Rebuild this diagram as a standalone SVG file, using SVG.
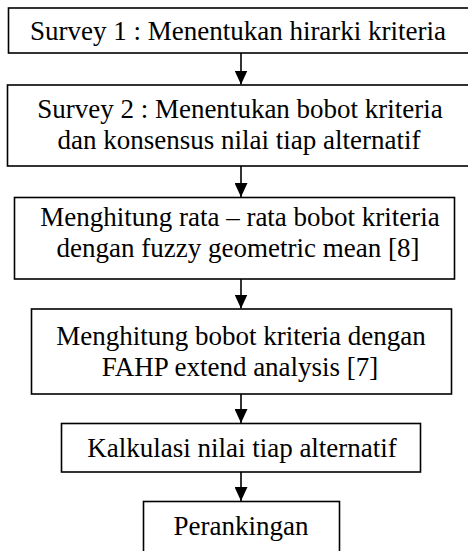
<svg xmlns="http://www.w3.org/2000/svg" width="468" height="551" viewBox="0 0 468 551">
<defs>
<marker id="ah" viewBox="0 0 14 13" refX="14" refY="6.5" markerWidth="14" markerHeight="13" markerUnits="userSpaceOnUse" orient="auto">
<path d="M0,0 L14,6.5 L0,13 Z" fill="#000"/>
</marker>
</defs>
<style>
rect{fill:#fff;stroke:#000;stroke-width:1.6}
text{font-family:'Liberation Serif','DejaVu Serif',serif;font-size:27px;fill:#000;text-anchor:middle}
.c{stroke:#000;stroke-width:1.6;fill:none;marker-end:url(#ah)}
</style>
<rect width="468" height="551" fill="#fff" style="stroke:none"/>
<g id="connectors">
<line class="c" x1="241" y1="53" x2="241" y2="84.5"/>
<line class="c" x1="241" y1="166" x2="241" y2="197"/>
<line class="c" x1="241" y1="279" x2="241" y2="308.5"/>
<line class="c" x1="241" y1="394" x2="241" y2="423"/>
<line class="c" x1="241" y1="472" x2="241" y2="501"/>
</g>
<g id="n1"><rect x="8.5" y="8" width="470" height="45"/><text x="238" y="40">Survey 1 : Menentukan hirarki kriteria</text></g>
<g id="n2"><rect x="7.5" y="85" width="470" height="81"/><text x="240" y="118">Survey 2 : Menentukan bobot kriteria</text><text x="239" y="149">dan konsensus nilai tiap alternatif</text></g>
<g id="n3"><rect x="14.5" y="197.5" width="440" height="81.5"/><text x="240" y="226">Menghitung rata – rata bobot kriteria</text><text x="238" y="257">dengan fuzzy geometric mean [8]</text></g>
<g id="n4"><rect x="31.5" y="309" width="420" height="85"/><text x="241" y="345">Menghitung bobot kriteria dengan</text><text x="240" y="376">FAHP extend analysis [7]</text></g>
<g id="n5"><rect x="61.5" y="423.5" width="359" height="48.5"/><text x="242" y="457">Kalkulasi nilai tiap alternatif</text></g>
<g id="n6"><rect x="143.5" y="501.5" width="196" height="80"/><text x="241" y="535">Perankingan</text></g>
</svg>
